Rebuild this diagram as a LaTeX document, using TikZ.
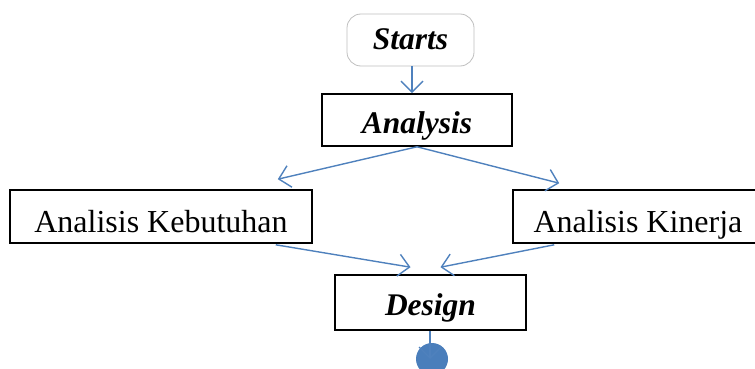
\documentclass[tikz,border=0pt]{standalone}
\usepackage{fontspec}
\setmainfont{Liberation Serif}
\usetikzlibrary{arrows.meta,calc}
\definecolor{lineblue}{HTML}{4F81BD}
\definecolor{dotblue}{HTML}{4A7EBB}
\tikzset{
  box/.style={draw=black, line width=1.6pt, inner sep=0pt, align=center},
  ttl/.style={font=\fontsize{31.5}{33}\selectfont\bfseries\itshape},
  lbl/.style={font=\fontsize{32}{34}\selectfont},
  arr/.style={draw=lineblue, line width=1.4pt, -{Straight Barb[length=11pt,width=22pt,line width=1.4pt]}},
}
\begin{document}
\begin{tikzpicture}[x=1pt,y=-1pt]
\useasboundingbox (0,0) rectangle (755,369);
\node[draw=black!25, line width=0.8pt, rounded corners=14pt, minimum width=127pt, minimum height=52pt, ttl, text height=24pt, text depth=4pt] (start) at (410.5,40) {Starts};
\node[box, minimum width=190pt, minimum height=52pt, ttl, text height=30pt, text depth=4pt] (ana) at (417,120) {Analysis};
\node[box, minimum width=302pt, minimum height=53pt, lbl, text height=35pt, text depth=4pt] (keb) at (161,216.5) {Analisis Kebutuhan};
\node[box, minimum width=244pt, minimum height=53pt, lbl, text height=35pt, text depth=4pt] (kin) at (635,216.5) {\hspace*{6pt}Analisis Kinerja};
\node[box, minimum width=191pt, minimum height=55pt, ttl, text height=29pt, text depth=4pt] (des) at (430.5,302.5) {Design};
\fill[dotblue] (432,359) circle (16pt);
\coordinate (dot) at (430,359);
\draw[arr] (start.south -| 412,0) -- (ana.north -| 412,0);
\draw[arr] (ana.south) -- ($(keb.north east)+(-35,-10)$);
\draw[arr] (ana.south) -- ($(kin.north west)+(47,-6)$);
\draw[arr] ($(keb.south east)+(-37,1)$) -- ($(des.north)+(-20,-7)$);
\draw[arr] ($(kin.south west)+(42,1)$) -- ($(des.north)+(10,-7)$);
\draw[arr] (des.south -| dot) -- (dot);
\end{tikzpicture}
\end{document}
